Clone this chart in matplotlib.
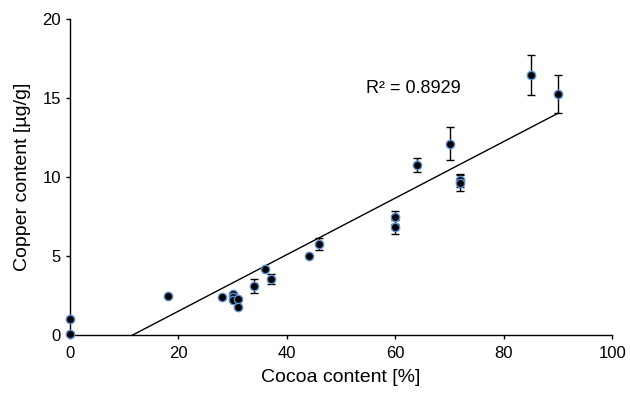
import matplotlib
matplotlib.use("Agg")
import matplotlib.pyplot as plt
import numpy as np

plt.rcParams['font.family'] = ['Liberation Sans', 'DejaVu Sans']

cocoa = [0, 0, 18, 28, 30, 30, 30, 31, 31, 34, 36, 37, 44, 46, 60, 60, 64, 70, 72, 72, 85, 90]
copper = [1.0, 0.05, 2.45, 2.42, 2.6, 2.4, 2.2, 2.3, 1.78, 3.1, 4.15, 3.52, 5.0, 5.75, 7.45, 6.85, 10.75, 12.1, 9.8, 9.6, 16.45, 15.25]
copper_err = [0, 0, 0, 0, 0, 0, 0, 0, 0, 0.45, 0, 0.32, 0, 0.38, 0.4, 0.45, 0.46, 1.04, 0.4, 0.5, 1.28, 1.18]

trend_slope = 0.179
trend_intercept = -2.07
r2_text = "R² = 0.8929"

fig = plt.figure(figsize=(6.3, 3.94), dpi=100)
ax = fig.add_axes([0.111, 0.1497, 0.861, 0.802])

x0 = -trend_intercept / trend_slope
xl = np.array([x0, 90])
ax.plot(xl, trend_slope * xl + trend_intercept, color='black', lw=1.0, zorder=2)

ax.errorbar(cocoa, copper, yerr=copper_err, fmt='none', ecolor='black',
            elinewidth=1.0, capsize=3, capthick=1.0, zorder=3)
ax.scatter(cocoa, copper, s=36, color='black', edgecolors='#5b8fd0',
           linewidths=1.0, zorder=4, clip_on=False)

ax.set_xlim(0, 100)
ax.set_ylim(0, 20)
ax.set_xticks([0, 20, 40, 60, 80, 100])
ax.set_yticks([0, 5, 10, 15, 20])
for s in ['top', 'right']:
    ax.spines[s].set_visible(False)
for s in ['left', 'bottom']:
    ax.spines[s].set_linewidth(1.0)
ax.tick_params(axis='both', direction='out', length=3, width=1.0, labelsize=12)
ax.tick_params(axis='x', pad=5)

ax.set_xlabel("Cocoa content [%]", fontsize=14, labelpad=6)
ax.set_ylabel("Copper content [µg/g]", fontsize=14, labelpad=8)

ax.text(54.6, 15.6, r2_text, fontsize=13, ha='left', va='center')

fig.savefig("out.png", dpi=100)
